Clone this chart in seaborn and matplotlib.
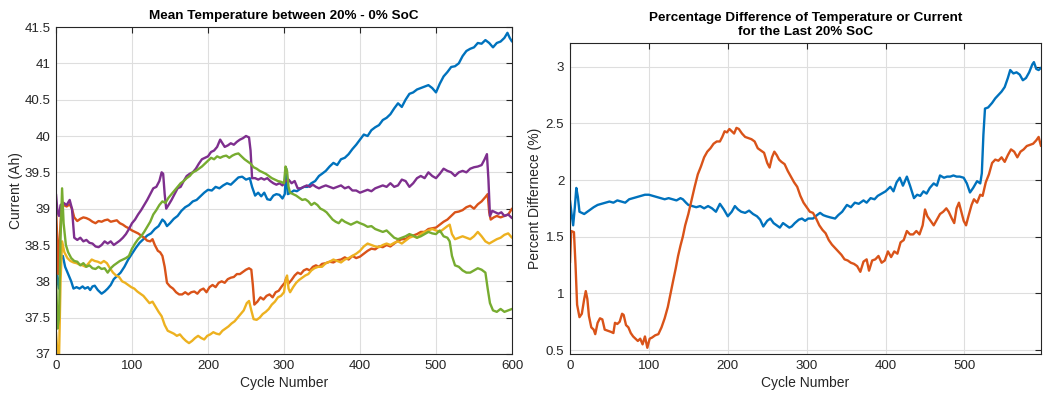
import numpy as np
import pandas as pd
import matplotlib
matplotlib.use("Agg")
import matplotlib.pyplot as plt
import seaborn as sns
from matplotlib.ticker import FuncFormatter

# ---------------- data: mean temperature between 20% and 0% SoC ----------------
blue_cyc = [0, 2, 4, 6, 9, 12, 16, 20, 23, 27, 31, 35, 38, 42, 45, 48, 51, 55, 60, 64, 68, 72, 76, 80, 85, 90, 95, 100,
            105, 110, 115, 120, 125, 130, 135, 140, 143, 146, 150, 155, 160, 165, 170, 175, 180, 185, 190, 195, 200,
            205, 210, 215, 220, 225, 230, 235, 240, 245, 250, 255, 258, 262, 266, 270, 274, 278, 282, 286, 290, 294,
            298, 301, 303, 305, 309, 313, 317, 321, 326, 331, 336, 341, 346, 350, 355, 360, 365, 370, 375, 380, 385,
            390, 395, 400, 405, 410, 415, 420, 425, 430, 435, 440, 445, 450, 455, 460, 465, 470, 475, 480, 485, 490,
            495, 500, 505, 510, 515, 520, 525, 530, 535, 540, 545, 550, 555, 560, 565, 570, 575, 580, 585, 590, 594,
            597, 600]
blue_val = [38.2, 38.0, 37.9, 38.3, 38.35, 38.2, 38.1, 38.0, 37.9, 37.92, 37.9, 37.93, 37.9, 37.92, 37.88, 37.93, 37.94,
            37.88, 37.83, 37.86, 37.9, 37.95, 38.03, 38.07, 38.12, 38.2, 38.3, 38.38, 38.46, 38.53, 38.58, 38.63, 38.66,
            38.72, 38.76, 38.85, 38.82, 38.76, 38.8, 38.86, 38.9, 38.97, 39.02, 39.05, 39.1, 39.12, 39.17, 39.22, 39.26,
            39.25, 39.3, 39.28, 39.32, 39.35, 39.33, 39.38, 39.43, 39.44, 39.4, 39.42, 39.3, 39.18, 39.22, 39.17, 39.22,
            39.13, 39.12, 39.18, 39.2, 39.19, 39.14, 39.2, 39.55, 39.2, 39.22, 39.25, 39.24, 39.27, 39.3, 39.3, 39.35,
            39.38, 39.45, 39.48, 39.52, 39.58, 39.63, 39.6, 39.68, 39.7, 39.75, 39.82, 39.88, 39.95, 40.02, 40.0, 40.08,
            40.12, 40.15, 40.22, 40.25, 40.3, 40.38, 40.45, 40.4, 40.5, 40.58, 40.6, 40.64, 40.66, 40.68, 40.7, 40.66,
            40.6, 40.72, 40.82, 40.88, 40.95, 40.96, 41.0, 41.1, 41.17, 41.2, 41.22, 41.28, 41.27, 41.32, 41.28, 41.22,
            41.28, 41.3, 41.35, 41.42, 41.35, 41.3]

orange_cyc = [0, 2, 3, 5, 7, 10, 14, 18, 21, 24, 28, 32, 36, 40, 44, 48, 52, 56, 60, 64, 68, 72, 76, 80, 84, 88, 92,
              96, 100, 104, 108, 112, 116, 120, 124, 127, 130, 134, 137, 140, 143, 146, 150, 154, 158, 162, 166, 170,
              174, 178, 182, 186, 190, 194, 198, 202, 206, 210, 214, 218, 222, 226, 230, 234, 238, 242, 246, 250, 254,
              257, 259, 261, 265, 269, 273, 277, 281, 285, 289, 293, 297, 301, 303, 306, 310, 314, 318, 322, 326, 330,
              334, 338, 342, 346, 350, 355, 360, 365, 370, 375, 380, 385, 390, 395, 400, 405, 410, 415, 420, 425, 430,
              435, 440, 445, 450, 455, 460, 465, 470, 475, 480, 485, 490, 495, 500, 505, 510, 515, 520, 525, 530, 535,
              540, 545, 550, 555, 560, 565, 568, 570, 572, 576, 580, 585, 590, 595, 600]
orange_val = [39.0, 38.5, 38.1, 38.6, 39.0, 39.05, 39.03, 39.06, 39.0, 38.88, 38.83, 38.86, 38.88, 38.87, 38.85, 38.82,
              38.8, 38.83, 38.82, 38.84, 38.85, 38.82, 38.83, 38.84, 38.8, 38.78, 38.75, 38.73, 38.7, 38.68, 38.66,
              38.63, 38.6, 38.56, 38.55, 38.58, 38.5, 38.42, 38.4, 38.35, 38.2, 37.98, 37.93, 37.9, 37.85, 37.82, 37.82,
              37.85, 37.82, 37.85, 37.86, 37.83, 37.88, 37.9, 37.85, 37.92, 37.95, 37.92, 37.98, 38.0, 37.98, 38.03,
              38.05, 38.06, 38.1, 38.1, 38.13, 38.16, 38.18, 38.16, 37.95, 37.68, 37.72, 37.78, 37.75, 37.8, 37.82,
              37.78, 37.85, 37.87, 37.93, 37.98, 38.05, 37.97, 38.02, 38.08, 38.12, 38.1, 38.15, 38.17, 38.15, 38.2,
              38.22, 38.2, 38.24, 38.25, 38.27, 38.26, 38.29, 38.3, 38.33, 38.3, 38.35, 38.32, 38.34, 38.38, 38.42,
              38.45, 38.44, 38.48, 38.47, 38.5, 38.48, 38.52, 38.56, 38.58, 38.58, 38.62, 38.63, 38.65, 38.68, 38.68,
              38.72, 38.73, 38.74, 38.78, 38.82, 38.85, 38.9, 38.95, 38.96, 38.98, 39.02, 39.04, 39.0, 39.06, 39.1,
              39.16, 39.2, 38.95, 38.85, 38.88, 38.9, 38.88, 38.9, 38.92, 39.0]

yellow_cyc = [0, 2, 4, 6, 8, 11, 15, 19, 23, 27, 31, 35, 39, 43, 47, 51, 55, 59, 63, 67, 71, 75, 79, 83, 87, 91, 95,
              99, 103, 107, 111, 115, 119, 123, 127, 131, 135, 139, 143, 147, 151, 155, 159, 163, 167, 171, 175, 179,
              183, 187, 191, 195, 199, 203, 207, 211, 215, 219, 223, 227, 231, 235, 239, 243, 247, 251, 254, 257, 260,
              264, 268, 272, 276, 280, 284, 288, 292, 296, 300, 302, 304, 306, 308, 312, 316, 320, 324, 328, 332, 336,
              340, 345, 350, 355, 360, 365, 370, 375, 380, 385, 390, 395, 400, 405, 410, 415, 420, 425, 430, 435, 440,
              445, 450, 455, 460, 465, 470, 475, 480, 485, 490, 495, 500, 505, 510, 515, 518, 521, 525, 530, 535, 540,
              545, 550, 555, 560, 565, 570, 575, 580, 585, 590, 595, 600]
yellow_val = [37.3, 37.0, 36.95, 38.0, 38.55, 38.4, 38.32, 38.28, 38.26, 38.25, 38.23, 38.22, 38.2, 38.25, 38.3, 38.28,
              38.27, 38.25, 38.28, 38.25, 38.18, 38.12, 38.08, 38.06, 38.0, 37.98, 37.95, 37.92, 37.9, 37.86, 37.83,
              37.8, 37.75, 37.7, 37.72, 37.65, 37.58, 37.52, 37.4, 37.32, 37.3, 37.28, 37.25, 37.27, 37.22, 37.18,
              37.15, 37.18, 37.22, 37.25, 37.22, 37.2, 37.25, 37.27, 37.3, 37.28, 37.27, 37.32, 37.35, 37.38, 37.42,
              37.45, 37.5, 37.55, 37.6, 37.7, 37.73, 37.6, 37.48, 37.47, 37.5, 37.55, 37.58, 37.62, 37.68, 37.72, 37.78,
              37.8, 37.85, 38.0, 38.08, 37.9, 37.85, 37.92, 37.98, 38.02, 38.05, 38.08, 38.1, 38.15, 38.18, 38.2, 38.2,
              38.25, 38.27, 38.3, 38.28, 38.26, 38.3, 38.32, 38.35, 38.38, 38.42, 38.48, 38.52, 38.5, 38.48, 38.47,
              38.5, 38.52, 38.5, 38.53, 38.55, 38.52, 38.56, 38.6, 38.62, 38.6, 38.65, 38.68, 38.7, 38.72, 38.7, 38.68,
              38.72, 38.76, 38.78, 38.65, 38.58, 38.6, 38.62, 38.6, 38.58, 38.62, 38.68, 38.62, 38.55, 38.52, 38.55,
              38.58, 38.6, 38.64, 38.66, 38.6]

purple_cyc = [0, 2, 4, 6, 10, 14, 18, 21, 24, 28, 32, 36, 40, 44, 48, 52, 56, 60, 64, 68, 72, 76, 80, 84, 88, 92, 96,
              100, 104, 108, 112, 116, 120, 124, 128, 132, 136, 139, 141, 143, 145, 148, 152, 156, 160, 164, 168, 172,
              176, 180, 184, 188, 192, 196, 200, 204, 208, 212, 216, 219, 222, 226, 230, 234, 238, 242, 246, 250, 254,
              256, 258, 262, 266, 270, 274, 278, 282, 286, 290, 294, 298, 302, 306, 310, 314, 318, 322, 326, 330, 334,
              338, 342, 346, 350, 355, 360, 365, 370, 375, 380, 385, 390, 395, 400, 405, 410, 415, 420, 425, 430, 435,
              440, 445, 450, 455, 460, 465, 470, 475, 480, 485, 490, 495, 500, 505, 510, 515, 520, 525, 530, 535, 540,
              545, 550, 555, 560, 564, 567, 569, 571, 574, 578, 582, 586, 590, 595, 600]
purple_val = [39.2, 38.95, 38.9, 39.05, 39.08, 39.05, 39.12, 39.0, 38.6, 38.57, 38.6, 38.55, 38.57, 38.53, 38.52, 38.48,
              38.47, 38.5, 38.55, 38.52, 38.55, 38.5, 38.53, 38.56, 38.6, 38.65, 38.72, 38.8, 38.85, 38.92, 38.98,
              39.05, 39.12, 39.2, 39.28, 39.3, 39.38, 39.5, 39.48, 39.2, 39.0, 39.05, 39.12, 39.2, 39.28, 39.3, 39.38,
              39.45, 39.48, 39.5, 39.55, 39.62, 39.68, 39.7, 39.72, 39.78, 39.8, 39.85, 39.95, 39.9, 39.85, 39.87, 39.9,
              39.88, 39.92, 39.95, 39.97, 40.0, 39.98, 39.8, 39.42, 39.42, 39.4, 39.42, 39.4, 39.42, 39.38, 39.35,
              39.33, 39.35, 39.32, 39.38, 39.4, 39.35, 39.38, 39.28, 39.28, 39.3, 39.32, 39.3, 39.33, 39.3, 39.28, 39.3,
              39.32, 39.3, 39.28, 39.3, 39.32, 39.28, 39.3, 39.25, 39.25, 39.22, 39.24, 39.26, 39.24, 39.28, 39.3,
              39.32, 39.3, 39.35, 39.3, 39.32, 39.4, 39.38, 39.3, 39.35, 39.42, 39.45, 39.42, 39.5, 39.45, 39.42, 39.48,
              39.55, 39.52, 39.5, 39.45, 39.5, 39.52, 39.5, 39.55, 39.57, 39.58, 39.6, 39.68, 39.75, 39.4, 38.9, 38.97,
              38.95, 38.93, 38.95, 38.9, 38.92, 38.87]

green_cyc = [0, 2, 4, 6, 8, 10, 13, 16, 20, 24, 28, 32, 36, 40, 44, 48, 52, 56, 60, 64, 68, 72, 76, 80, 84, 88, 92, 96,
             100, 104, 108, 112, 116, 120, 124, 128, 132, 136, 140, 144, 148, 152, 156, 160, 164, 168, 172, 176, 180,
             184, 188, 192, 196, 200, 204, 208, 212, 216, 220, 224, 228, 232, 236, 240, 244, 248, 252, 256, 260, 264,
             268, 272, 276, 280, 284, 288, 292, 296, 300, 302, 304, 306, 308, 312, 316, 320, 324, 328, 332, 336, 340,
             344, 348, 352, 356, 360, 364, 368, 372, 376, 380, 384, 388, 392, 396, 400, 405, 410, 415, 420, 425, 430,
             435, 440, 445, 450, 455, 460, 465, 470, 475, 480, 485, 490, 495, 500, 505, 510, 515, 518, 521, 525, 530,
             535, 540, 545, 550, 555, 560, 565, 568, 571, 575, 580, 585, 590, 595, 600]
green_val = [38.1, 37.35, 37.5, 38.6, 39.28, 38.8, 38.5, 38.4, 38.32, 38.28, 38.27, 38.22, 38.25, 38.2, 38.22, 38.18,
             38.17, 38.2, 38.17, 38.18, 38.12, 38.18, 38.22, 38.25, 38.28, 38.3, 38.32, 38.35, 38.45, 38.52, 38.58,
             38.62, 38.68, 38.75, 38.82, 38.92, 38.98, 39.05, 39.1, 39.08, 39.15, 39.2, 39.25, 39.3, 39.35, 39.38,
             39.42, 39.45, 39.5, 39.52, 39.55, 39.58, 39.62, 39.66, 39.7, 39.68, 39.72, 39.7, 39.72, 39.73, 39.7, 39.73,
             39.75, 39.76, 39.72, 39.68, 39.65, 39.62, 39.57, 39.55, 39.52, 39.5, 39.48, 39.45, 39.42, 39.4, 39.38,
             39.37, 39.35, 39.58, 39.52, 39.3, 39.22, 39.2, 39.18, 39.15, 39.12, 39.13, 39.1, 39.05, 39.08, 39.05, 39.0,
             38.98, 38.95, 38.9, 38.85, 38.82, 38.8, 38.85, 38.82, 38.8, 38.78, 38.8, 38.82, 38.8, 38.78, 38.75, 38.76,
             38.72, 38.7, 38.68, 38.7, 38.65, 38.6, 38.58, 38.6, 38.62, 38.65, 38.63, 38.6, 38.62, 38.65, 38.68, 38.66,
             38.65, 38.7, 38.62, 38.6, 38.55, 38.35, 38.22, 38.2, 38.15, 38.12, 38.12, 38.15, 38.18, 38.16, 38.12,
             37.9, 37.7, 37.6, 37.58, 37.62, 37.58, 37.6, 37.62]

# ---------------- data: percentage difference for the last 20% SoC ----------------
pct_temp_cyc = [0, 2, 4, 6, 8, 10, 12, 15, 18, 22, 26, 30, 35, 40, 45, 50, 55, 60, 65, 70, 75, 80, 85, 90, 95, 100,
                105, 110, 115, 120, 125, 130, 135, 140, 143, 147, 150, 155, 160, 165, 170, 175, 180, 185, 190, 195,
                200, 205, 209, 213, 217, 222, 227, 232, 237, 241, 245, 250, 254, 258, 262, 266, 270, 274, 278, 281,
                285, 290, 294, 298, 302, 308, 313, 317, 321, 325, 330, 336, 340, 345, 351, 356, 361, 366, 372, 376,
                381, 386, 390, 395, 400, 406, 410, 414, 418, 422, 427, 431, 436, 440, 444, 448, 452, 456, 461, 465,
                469, 474, 478, 482, 486, 490, 494, 499, 503, 507, 511, 516, 520, 522, 524, 526, 530, 535, 539, 543,
                547, 551, 555, 558, 562, 566, 570, 574, 578, 582, 586, 588, 591, 594, 597]
pct_temp_val = [1.82, 1.7, 1.6, 1.75, 1.93, 1.85, 1.72, 1.71, 1.7, 1.72, 1.74, 1.76, 1.78, 1.79, 1.8, 1.81, 1.8, 1.82,
                1.81, 1.8, 1.83, 1.84, 1.85, 1.86, 1.87, 1.87, 1.86, 1.85, 1.84, 1.83, 1.84, 1.83, 1.82, 1.84, 1.83,
                1.8, 1.78, 1.77, 1.76, 1.77, 1.75, 1.77, 1.75, 1.72, 1.79, 1.74, 1.68, 1.72, 1.77, 1.74, 1.72, 1.71,
                1.73, 1.7, 1.68, 1.65, 1.59, 1.64, 1.66, 1.62, 1.6, 1.58, 1.62, 1.6, 1.58, 1.59, 1.62, 1.65, 1.66, 1.64,
                1.66, 1.66, 1.69, 1.71, 1.69, 1.68, 1.67, 1.66, 1.69, 1.72, 1.78, 1.76, 1.8, 1.79, 1.82, 1.8, 1.84,
                1.83, 1.86, 1.88, 1.9, 1.94, 1.9, 1.98, 2.02, 1.95, 2.03, 1.95, 1.84, 1.87, 1.86, 1.9, 1.88, 1.93, 1.97,
                1.95, 2.04, 2.02, 2.03, 2.03, 2.04, 2.03, 2.03, 2.02, 1.97, 1.89, 1.93, 1.99, 1.97, 2.06, 2.4, 2.63,
                2.64, 2.68, 2.72, 2.75, 2.78, 2.82, 2.9, 2.97, 2.94, 2.95, 2.93, 2.88, 2.9, 2.95, 3.02, 3.04, 2.98,
                2.97, 2.99]

pct_curr_cyc = [0, 1.5, 5, 7, 9, 12, 15, 18, 20, 22, 24, 27, 30, 32, 35, 38, 41, 44, 48, 52, 55, 57, 60, 63, 66, 68,
                71, 74, 77, 80, 83, 86, 89, 92, 95, 98, 101, 104, 108, 112, 116, 120, 124, 128, 131, 134, 137, 140,
                143, 146, 150, 154, 158, 162, 166, 170, 174, 178, 182, 186, 190, 193, 196, 199, 202, 205, 208, 211,
                214, 218, 222, 226, 230, 234, 238, 242, 246, 250, 253, 256, 259, 262, 265, 268, 272, 276, 280, 284,
                288, 292, 296, 300, 304, 308, 312, 316, 320, 324, 328, 332, 336, 340, 344, 348, 352, 356, 360, 364,
                368, 372, 376, 379, 383, 387, 391, 395, 399, 403, 407, 411, 415, 419, 423, 427, 431, 435, 439, 443,
                447, 450, 453, 457, 461, 465, 469, 473, 477, 480, 484, 487, 490, 493, 496, 499, 502, 505, 509, 512,
                516, 520, 523, 527, 531, 535, 539, 543, 547, 551, 555, 559, 563, 567, 571, 575, 579, 583, 587, 591,
                594, 597]
pct_curr_val = [1.27, 1.55, 1.54, 1.25, 0.9, 0.79, 0.82, 0.95, 1.02, 0.95, 0.8, 0.7, 0.68, 0.64, 0.74, 0.78, 0.77, 0.68,
                0.67, 0.66, 0.65, 0.74, 0.73, 0.75, 0.82, 0.81, 0.72, 0.7, 0.65, 0.62, 0.6, 0.58, 0.6, 0.55, 0.62,
                0.52, 0.6, 0.61, 0.63, 0.64, 0.7, 0.78, 0.88, 1.02, 1.12, 1.22, 1.33, 1.42, 1.5, 1.6, 1.7, 1.82, 1.94,
                2.05, 2.12, 2.2, 2.25, 2.28, 2.32, 2.34, 2.34, 2.38, 2.43, 2.42, 2.45, 2.43, 2.41, 2.46, 2.45, 2.41,
                2.38, 2.37, 2.36, 2.34, 2.28, 2.26, 2.24, 2.15, 2.11, 2.2, 2.25, 2.22, 2.18, 2.16, 2.14, 2.08, 2.03,
                1.98, 1.94, 1.86, 1.8, 1.76, 1.72, 1.71, 1.66, 1.6, 1.56, 1.53, 1.47, 1.43, 1.4, 1.37, 1.34, 1.3, 1.29,
                1.27, 1.26, 1.24, 1.19, 1.28, 1.3, 1.2, 1.29, 1.3, 1.33, 1.27, 1.29, 1.37, 1.32, 1.37, 1.35, 1.45,
                1.47, 1.55, 1.52, 1.52, 1.55, 1.52, 1.6, 1.74, 1.68, 1.64, 1.6, 1.65, 1.7, 1.72, 1.75, 1.72, 1.66,
                1.62, 1.75, 1.8, 1.72, 1.64, 1.6, 1.68, 1.78, 1.83, 1.8, 1.87, 1.86, 1.98, 2.05, 2.15, 2.18, 2.17, 2.2,
                2.16, 2.22, 2.27, 2.25, 2.2, 2.25, 2.27, 2.3, 2.31, 2.32, 2.35, 2.38, 2.3]

left_ticks_y = [37, 37.5, 38, 38.5, 39, 39.5, 40, 40.5, 41, 41.5]
left_ticks_x = [0, 100, 200, 300, 400, 500, 600]
right_ticks_y = [0.5, 1, 1.5, 2, 2.5, 3]
right_ticks_x = [0, 100, 200, 300, 400, 500]

# MATLAB default line colours
C_BLUE, C_ORANGE, C_YELLOW, C_PURPLE, C_GREEN = "#0072BD", "#D95319", "#EDB120", "#7E2F8E", "#77AC30"
AX_COL = "#262626"

sns.set_theme(style="white")
plt.rcParams["font.family"] = ["Liberation Sans", "DejaVu Sans"]

fig = plt.figure(figsize=(10.45, 3.95), dpi=100)
ax1 = fig.add_axes([56 / 1045, 1 - 354 / 395, (512 - 56) / 1045, (354 - 27) / 395])
ax2 = fig.add_axes([570 / 1045, 1 - 354 / 395, (1041 - 570) / 1045, (354 - 43.3) / 395])

LW = 1.7
left_series = [
    (blue_cyc, blue_val, C_BLUE),
    (orange_cyc, orange_val, C_ORANGE),
    (yellow_cyc, yellow_val, C_YELLOW),
    (purple_cyc, purple_val, C_PURPLE),
    (green_cyc, green_val, C_GREEN),
]
for cyc, val, col in left_series:
    sns.lineplot(x=cyc, y=val, ax=ax1, color=col, linewidth=LW, estimator=None, sort=False)

for cyc, val, col in [(pct_temp_cyc, pct_temp_val, C_BLUE), (pct_curr_cyc, pct_curr_val, C_ORANGE)]:
    sns.lineplot(x=cyc, y=val, ax=ax2, color=col, linewidth=LW, estimator=None, sort=False)


def style_axes(ax):
    ax.grid(True, color="#dedede", linewidth=0.8)
    ax.set_axisbelow(True)
    for sp in ax.spines.values():
        sp.set_color(AX_COL)
        sp.set_linewidth(0.8)
        sp.set_visible(True)
    ax.tick_params(direction="in", top=True, right=True, length=4, width=0.8,
                   color=AX_COL, labelcolor=AX_COL, labelsize=9.6, pad=4)
    ax.yaxis.set_major_formatter(FuncFormatter(lambda v, p: f"{v:g}"))
    ax.xaxis.set_major_formatter(FuncFormatter(lambda v, p: f"{v:g}"))


ax1.set_xlim(0, 600)
ax1.set_ylim(37, 41.5)
ax1.set_xticks(left_ticks_x)
ax1.set_yticks(left_ticks_y)
style_axes(ax1)
ax1.set_title("Mean Temperature between 20% - 0% SoC", fontsize=9.7, fontweight="bold", color="black", pad=6)
ax1.set_xlabel("Cycle Number", fontsize=10, color=AX_COL, labelpad=3)
ax1.set_ylabel("Current (Ah)", fontsize=10, color=AX_COL, labelpad=1)

ax2.set_xlim(0, 597)
ax2.set_ylim(0.465, 3.206)
ax2.set_xticks(right_ticks_x)
ax2.set_yticks(right_ticks_y)
style_axes(ax2)
ax2.set_title("Percentage Difference of Temperature or Current\nfor the Last 20% SoC",
              fontsize=9.7, fontweight="bold", color="black", pad=6, linespacing=1.25)
ax2.set_xlabel("Cycle Number", fontsize=10, color=AX_COL, labelpad=3)
ax2.set_ylabel("Percent Differnece (%)", fontsize=10, color=AX_COL, labelpad=2.5)

fig.savefig("out.png", dpi=100, facecolor="white")
